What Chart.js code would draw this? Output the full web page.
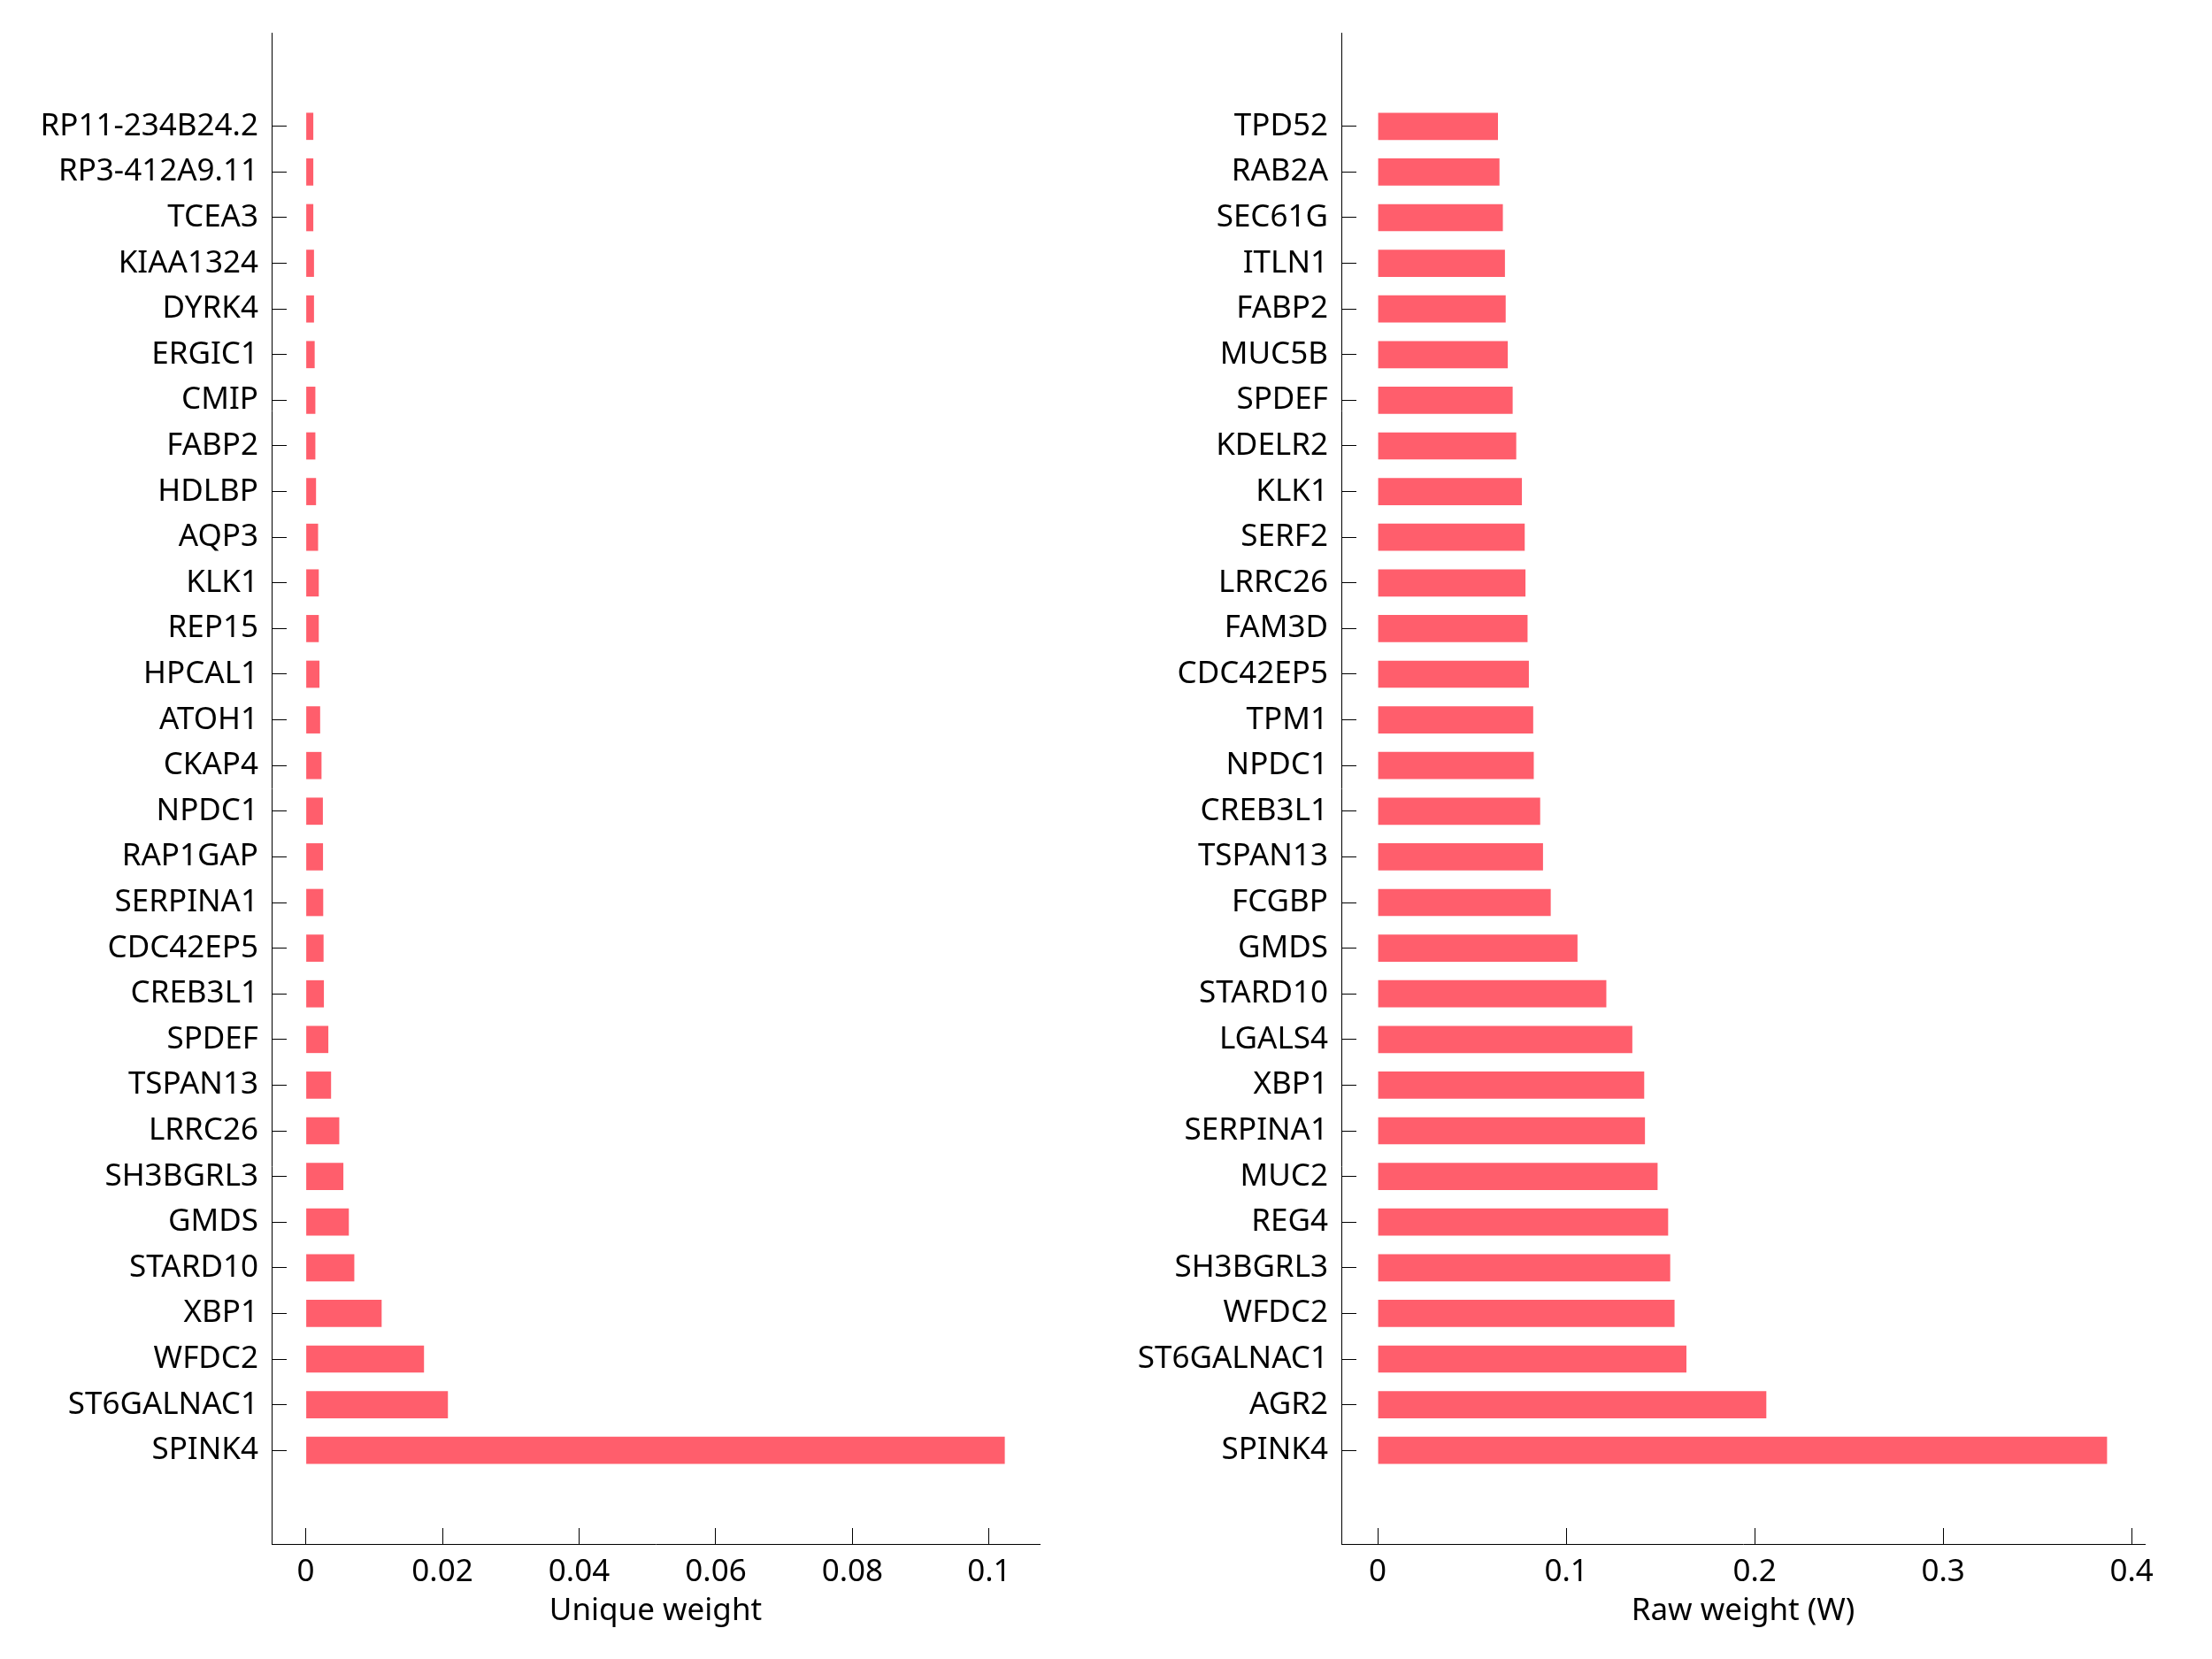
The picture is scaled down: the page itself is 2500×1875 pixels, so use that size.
<!DOCTYPE html>
<html lang="en">
<head>
<meta charset="utf-8">
<title>Unique weight / Raw weight</title>
<script src="https://cdn.jsdelivr.net/npm/chart.js@4"></script>
<style>
  html, body { margin: 0; padding: 0; background: #fff; }
  #wrap { position: relative; width: 2500px; height: 1875px; }
  canvas { position: absolute; top: 0; }
</style>
</head>
<body>
<div id="wrap">
  <canvas id="uniqueChart" width="1250" height="1875" style="left:0"></canvas>
  <canvas id="rawChart" width="1250" height="1875" style="left:1250px"></canvas>
</div>
<script>
// ---------------- data (top row first) ----------------
const uniqueGenes = [
  'RP11-234B24.2', 'RP3-412A9.11', 'TCEA3', 'KIAA1324', 'DYRK4', 'ERGIC1', 'CMIP', 'FABP2',
  'HDLBP', 'AQP3', 'KLK1', 'REP15', 'HPCAL1', 'ATOH1', 'CKAP4', 'NPDC1', 'RAP1GAP',
  'SERPINA1', 'CDC42EP5', 'CREB3L1', 'SPDEF', 'TSPAN13', 'LRRC26', 'SH3BGRL3', 'GMDS',
  'STARD10', 'XBP1', 'WFDC2', 'ST6GALNAC1', 'SPINK4',
];
const uniqueValues = [
  0.0011, 0.0011, 0.0011, 0.0012, 0.0012, 0.0013, 0.0014, 0.0014,
  0.0015, 0.0018, 0.0019, 0.0019, 0.0020, 0.0021, 0.0023, 0.0025, 0.00252,
  0.00255, 0.0026, 0.00265, 0.0033, 0.0037, 0.0049, 0.0055, 0.0063,
  0.0071, 0.0111, 0.0173, 0.0208, 0.1023,
];
const uniqueTicks = [0, 0.02, 0.04, 0.06, 0.08, 0.1];
const uniqueTickLabels = ['0', '0.02', '0.04', '0.06', '0.08', '0.1'];

const rawGenes = [
  'TPD52', 'RAB2A', 'SEC61G', 'ITLN1', 'FABP2', 'MUC5B', 'SPDEF', 'KDELR2', 'KLK1', 'SERF2',
  'LRRC26', 'FAM3D', 'CDC42EP5', 'TPM1', 'NPDC1', 'CREB3L1', 'TSPAN13', 'FCGBP', 'GMDS',
  'STARD10', 'LGALS4', 'XBP1', 'SERPINA1', 'MUC2', 'REG4', 'SH3BGRL3', 'WFDC2',
  'ST6GALNAC1', 'AGR2', 'SPINK4',
];
const rawValues = [
  0.0638, 0.0646, 0.0664, 0.0675, 0.0679, 0.0690, 0.0716, 0.0735, 0.0765, 0.0780,
  0.0784, 0.0795, 0.0802, 0.0825, 0.0828, 0.0862, 0.0877, 0.0918, 0.1060,
  0.1213, 0.1351, 0.1414, 0.1418, 0.1485, 0.1541, 0.1552, 0.1575,
  0.1638, 0.2062, 0.3870,
];
const rawTicks = [0, 0.1, 0.2, 0.3, 0.4];
const rawTickLabels = ['0', '0.1', '0.2', '0.3', '0.4'];
// ------------------------------------------------------

Chart.defaults.font.family = '"Noto Sans", "DejaVu Sans", sans-serif';
Chart.defaults.font.size = 35;
Chart.defaults.color = '#000';

const BAR_COLOR = 'rgb(255, 94, 108)';

function makeChart(id, genes, values, ticks, tickLabels, xMin, xMax, title, yWidth, pad) {
  const n = genes.length;
  return new Chart(document.getElementById(id), {
    type: 'bar',
    data: {
      datasets: [{
        data: values.map((v, i) => ({ x: v, y: i })),
        backgroundColor: BAR_COLOR,
        borderWidth: 0,
        barPercentage: 0.595,
        categoryPercentage: 1,
      }],
    },
    options: {
      indexAxis: 'y',
      responsive: false,
      animation: false,
      layout: { padding: pad },
      plugins: { legend: { display: false }, tooltip: { enabled: false } },
      scales: {
        x: {
          type: 'linear',
          min: xMin,
          max: xMax,
          offset: false,
          afterBuildTicks: (s) => { s.ticks = ticks.map((v) => ({ value: v })); },
          afterFit: (s) => { s.height = 110; s.paddingLeft = 0; s.paddingRight = 0; },
          ticks: {
            autoSkip: false,
            maxRotation: 0,
            padding: 29,
            callback: (v, i) => tickLabels[i],
          },
          grid: { offset: false, drawOnChartArea: false, drawTicks: true, tickLength: -18, tickColor: '#000', tickWidth: 1 },
          border: { display: true, color: '#000', width: 1 },
          title: { display: true, text: title, padding: { top: 0, bottom: 13 } },
        },
        y: {
          type: 'linear',
          reverse: true,
          offset: false,
          min: -2.05,
          max: n - 1 + 2.05,
          afterBuildTicks: (s) => { s.ticks = genes.map((g, i) => ({ value: i })); },
          // keep the plot frame where the reference has it (labels sit well inside)
          afterFit: (s) => { s.width = yWidth; s.paddingTop = 0; s.paddingBottom = 0; },
          ticks: {
            autoSkip: false,
            padding: 32,
            callback: (v) => genes[v],
          },
          grid: { offset: false, drawOnChartArea: false, drawTicks: true, tickLength: -17, tickColor: '#000', tickWidth: 1 },
          border: { display: true, color: '#000', width: 1 },
        },
      },
    },
  });
}

makeChart('uniqueChart', uniqueGenes, uniqueValues, uniqueTicks, uniqueTickLabels,
  -0.005, 0.1074, 'Unique weight', 307, { left: 0, top: 37, right: 75, bottom: 20 });
makeChart('rawChart', rawGenes, rawValues, rawTicks, rawTickLabels,
  -0.0193, 0.407, 'Raw weight (W)', 266, { left: 0, top: 37, right: 76, bottom: 20 });
</script>
</body>
</html>
